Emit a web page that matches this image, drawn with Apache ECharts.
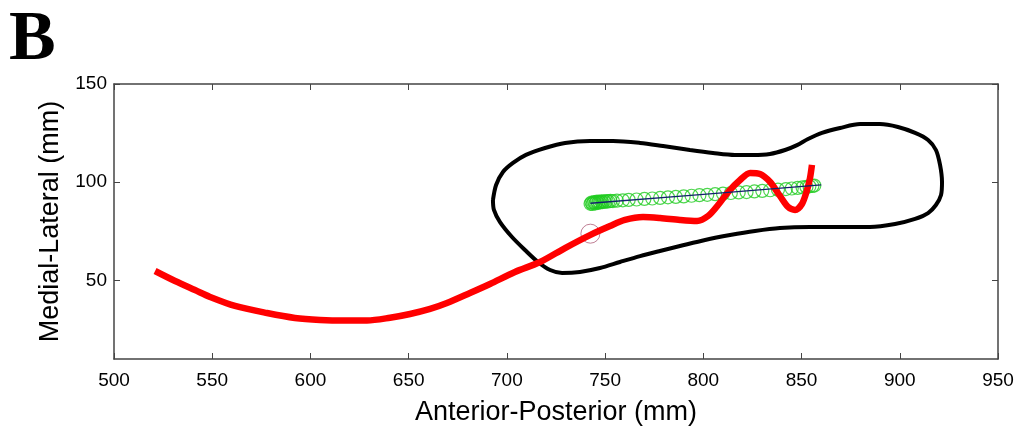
<!DOCTYPE html>
<html>
<head>
<meta charset="utf-8">
<script src="https://cdn.jsdelivr.net/npm/echarts@6/dist/echarts.min.js"></script>
<style>
  html, body { margin: 0; padding: 0; background: #fff; }
  #main { width: 1020px; height: 441px; }
</style>
</head>
<body>
<div id="main"></div>
<script>
// red trajectory (x = anterior-posterior, y = medial-lateral)
var redX = [520.9, 531.1, 541.2, 548.9, 561.6, 577.9, 592.1, 604.9, 617.6, 628.8, 640.5, 650.7, 660.9, 669.5, 681.2, 691.4, 704.1, 716.9, 729.6, 742.3, 752.5, 760.1, 769.3, 778.0, 788.1, 796.8, 802.4, 807.5, 812.6, 818.7, 823.8, 828.9, 834.0, 839.0, 843.1, 846.7, 850.2, 852.8, 854.3, 855.3];
var redY = [54.8, 49.7, 45.1, 41.6, 37.0, 33.4, 30.9, 29.9, 29.6, 29.6, 31.0, 32.9, 35.5, 38.5, 43.6, 48.2, 54.3, 59.4, 66.5, 73.1, 77.7, 80.8, 82.3, 81.8, 80.8, 80.3, 82.8, 88.4, 95.0, 101.1, 104.7, 104.2, 100.1, 93.0, 87.4, 85.9, 88.9, 96.0, 102.1, 108.8];

// black closed contour
var loopX = [692.9, 694.5, 698.0, 703.1, 709.7, 719.4, 729.6, 742.3, 754.0, 767.8, 779.5, 793.2, 804.9, 816.1, 825.3, 833.9, 841.6, 847.7, 853.3, 860.4, 869.6, 879.8, 889.9, 899.1, 907.8, 914.4, 918.4, 920.5, 921.5, 921.0, 918.4, 914.4, 907.8, 897.6, 884.8, 869.6, 854.3, 839.0, 826.3, 813.6, 800.9, 788.1, 777.9, 767.8, 757.6, 747.4, 737.2, 728.1, 722.0, 715.8, 709.2, 702.6, 696.5, 693.4, 692.9];
var loopY = [90.9, 98.6, 105.2, 109.8, 113.9, 117.4, 120.0, 121.0, 121.0, 120.0, 118.4, 116.4, 114.9, 113.9, 113.9, 114.4, 116.4, 118.9, 122.0, 125.1, 127.6, 129.6, 129.6, 128.1, 125.1, 121.5, 116.4, 108.8, 100.1, 93.5, 88.4, 84.3, 81.3, 78.7, 77.2, 77.2, 77.2, 76.7, 75.2, 73.1, 70.6, 67.5, 65.0, 62.4, 59.4, 56.3, 54.3, 53.8, 55.3, 59.4, 65.5, 72.1, 79.7, 85.9, 90.9];

// green circles along the fitted line
var greenX = [742.6, 743.1, 743.6, 744.0, 744.5, 745.0, 745.4, 745.9, 746.4, 746.9, 747.4, 748.0, 748.6, 749.3, 750.0, 750.8, 751.7, 752.7, 754, 756, 759, 762, 766, 770, 774, 778, 782, 786, 790, 794, 798, 802, 806, 810, 814, 818, 822, 826, 830, 834, 838, 842, 845, 848, 850.5, 852.5, 854, 855.5, 856.5];
var greenY = [89.0, 89.6, 88.9, 89.5, 89.9, 89.2, 89.8, 90.1, 89.5, 90.0, 89.7, 90.2, 89.9, 90.3, 90.0, 90.4, 90.2, 90.5, 90.4, 90.6, 90.8, 91.0, 91.2, 91.5, 91.7, 92.0, 92.3, 92.5, 92.8, 93.1, 93.4, 93.6, 93.9, 94.2, 94.5, 94.8, 95.0, 95.3, 95.6, 95.9, 96.2, 96.5, 96.8, 97.1, 97.4, 97.6, 97.9, 98.1, 98.3];

// thin blue line
var blueX = [742.5, 800, 860];
var blueY = [89.3, 93.8, 98.6];

// open circle marker
var markX = [742.5];
var markY = [73.8];

var yTicks = [50, 100, 150];

function pairs(xs, ys) {
    return xs.map(function (x, i) { return [x, ys[i]]; });
}

var myChart = echarts.init(document.getElementById('main'));

var tickFont = { fontFamily: 'Liberation Sans', fontSize: 19, color: '#000' };
var nameFont = { fontFamily: 'Liberation Sans', fontSize: 27, color: '#000' };
var frameLine = { show: true, lineStyle: { color: '#444', width: 1.5 } };
var innerTick = { inside: true, length: 6, lineStyle: { color: '#444' } };

var option = {
    animation: false,
    backgroundColor: '#fff',
    graphic: [{
        type: 'text',
        left: 9,
        top: 6,
        style: { text: 'B', font: 'bold 70px "Liberation Serif"', fill: '#000' }
    }],
    grid: { left: 114, right: 22, top: 84, bottom: 82 },
    xAxis: [{
        type: 'value',
        min: 500, max: 950, interval: 50,
        name: 'Anterior-Posterior (mm)',
        nameLocation: 'middle',
        nameGap: 40,
        nameTextStyle: nameFont,
        axisLine: frameLine,
        axisTick: innerTick,
        axisLabel: { fontFamily: tickFont.fontFamily, fontSize: tickFont.fontSize, color: tickFont.color, margin: 12 },
        splitLine: { show: false }
    }, {
        type: 'value',
        position: 'top',
        min: 500, max: 950, interval: 50,
        axisLine: frameLine,
        axisTick: innerTick,
        axisLabel: { show: false },
        splitLine: { show: false }
    }],
    yAxis: [{
        type: 'value',
        min: 10, max: 150,
        name: 'Medial-Lateral (mm)',
        nameLocation: 'middle',
        nameGap: 48,
        nameTextStyle: nameFont,
        axisLine: frameLine,
        axisTick: { inside: true, length: 6, customValues: yTicks, lineStyle: { color: '#444' } },
        axisLabel: { fontFamily: tickFont.fontFamily, fontSize: tickFont.fontSize, color: tickFont.color, margin: 7, customValues: yTicks },
        splitLine: { show: false }
    }, {
        type: 'value',
        position: 'right',
        min: 10, max: 150,
        axisLine: frameLine,
        axisTick: { inside: true, length: 6, customValues: yTicks, lineStyle: { color: '#444' } },
        axisLabel: { show: false },
        splitLine: { show: false }
    }],
    series: [{
        name: 'contour',
        type: 'line',
        data: pairs(loopX, loopY),
        smooth: 0.3,
        symbol: 'none',
        lineStyle: { color: '#000', width: 4 }
    }, {
        name: 'path',
        type: 'line',
        data: pairs(redX, redY),
        smooth: 0.3,
        symbol: 'none',
        lineStyle: { color: '#f00', width: 6.5 }
    }, {
        name: 'points',
        type: 'scatter',
        data: pairs(greenX, greenY),
        symbol: 'circle',
        symbolSize: 13,
        itemStyle: { color: 'rgba(0,0,0,0)', borderColor: '#22cc22', borderWidth: 1.2 }
    }, {
        name: 'fit',
        type: 'line',
        data: pairs(blueX, blueY),
        symbol: 'none',
        lineStyle: { color: '#14206e', width: 1.3 }
    }, {
        name: 'start',
        type: 'scatter',
        data: pairs(markX, markY),
        symbol: 'circle',
        symbolSize: 19,
        itemStyle: { color: 'rgba(0,0,0,0)', borderColor: '#b0607a', borderWidth: 1 }
    }]
};

myChart.setOption(option);
</script>
</body>
</html>
